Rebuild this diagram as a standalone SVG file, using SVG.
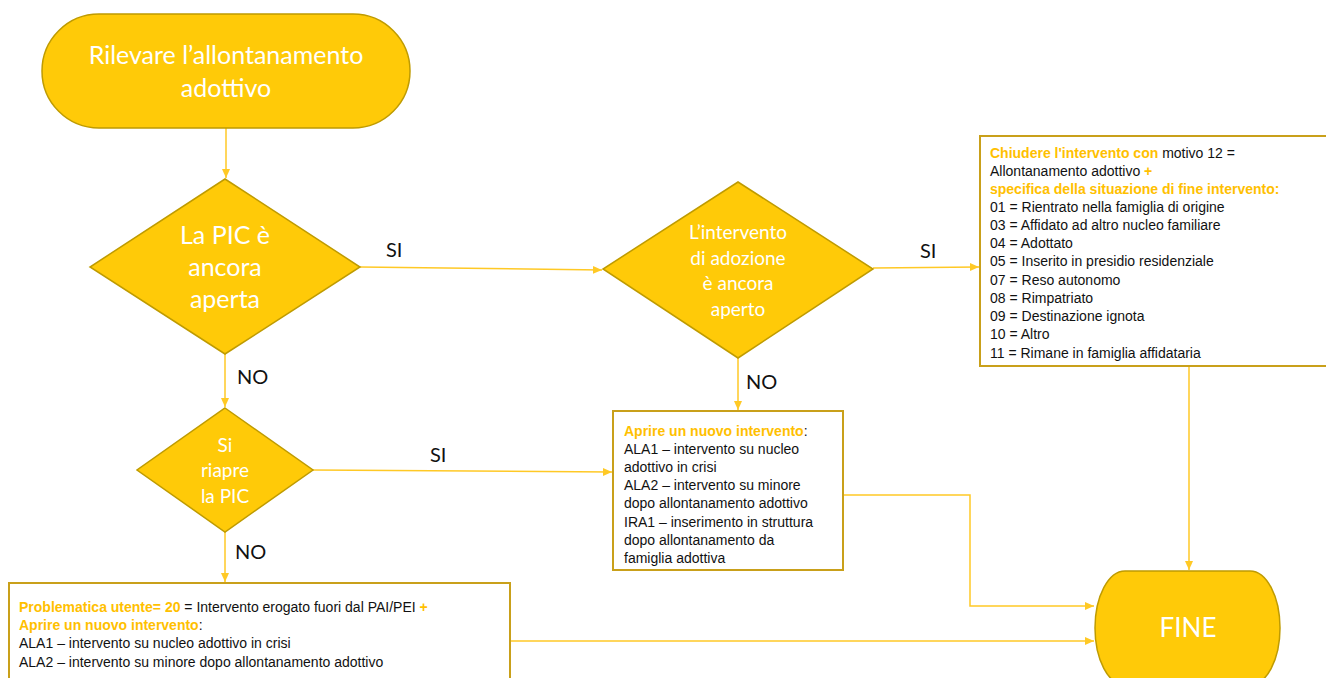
<svg xmlns="http://www.w3.org/2000/svg" width="1326" height="678" viewBox="0 0 1326 678">
<defs>
<marker id="arr" markerWidth="10" markerHeight="10" refX="9" refY="5" orient="auto" markerUnits="userSpaceOnUse">
<path d="M0,1 L9,5 L0,9 Z" fill="#FFC000"/>
</marker>
<style>
.shape{fill:#FFCA08;stroke:#BF9B00;stroke-width:1.5}
.box{fill:#FFFFFF;stroke:#C9A01A;stroke-width:2}
.wt{font-family:Lato,"Open Sans",sans-serif;fill:#FFFFFF;text-anchor:middle}
.lbl{font-family:Lato,"Open Sans",sans-serif;fill:#111111;font-size:20px}
.bt{font-family:"Liberation Sans",Arial,sans-serif;font-size:14px;fill:#111111}
.or{fill:#FFC000;font-weight:bold}
.con{fill:none;stroke:#FFC000;stroke-width:1.5;opacity:0.85}
</style>
</defs>
<rect width="1326" height="678" fill="#FFFFFF"/>
<g id="connectors">
<path class="con" d="M226,128 V178" marker-end="url(#arr)"/>
<path class="con" d="M360,267 L602,270" marker-end="url(#arr)"/>
<path class="con" d="M873,268 L979,267" marker-end="url(#arr)"/>
<path class="con" d="M738,358 V410" marker-end="url(#arr)"/>
<path class="con" d="M225,354 V407" marker-end="url(#arr)"/>
<path class="con" d="M313,470 L612,472" marker-end="url(#arr)"/>
<path class="con" d="M225,532 V582" marker-end="url(#arr)"/>
<path class="con" d="M1189,367 V570" marker-end="url(#arr)"/>
<path class="con" d="M843,495 H970 V606 H1094" marker-end="url(#arr)"/>
<path class="con" d="M510,641 H1094" marker-end="url(#arr)"/>
<text class="lbl" x="386" y="257">SI</text>
<text class="lbl" x="920" y="258">SI</text>
<text class="lbl" x="237" y="384">NO</text>
<text class="lbl" x="746" y="389">NO</text>
<text class="lbl" x="430" y="462">SI</text>
<text class="lbl" x="235" y="559">NO</text>
</g>
<g id="start">
<rect class="shape" x="42" y="14" width="368" height="114" rx="57" ry="57"/>
<text class="wt" font-size="25" x="226" y="64">Rilevare l’allontanamento</text>
<text class="wt" font-size="25" x="226" y="97">adottivo</text>
</g>
<g id="d1">
<polygon class="shape" points="225,179 360,267 225,354 90,267"/>
<text class="wt" font-size="25" x="225" y="244">La PIC è</text>
<text class="wt" font-size="25" x="225" y="276">ancora</text>
<text class="wt" font-size="25" x="225" y="308">aperta</text>
</g>
<g id="d2">
<polygon class="shape" points="738,182 873,269 738,358 603,269"/>
<text class="wt" font-size="19" x="738" y="239">L’intervento</text>
<text class="wt" font-size="19" x="738" y="265">di adozione</text>
<text class="wt" font-size="19" x="738" y="290">è ancora</text>
<text class="wt" font-size="19" x="738" y="316">aperto</text>
</g>
<g id="d3">
<polygon class="shape" points="225,408 313,470 225,532 137,470"/>
<text class="wt" font-size="19" x="225" y="452">Si</text>
<text class="wt" font-size="19" x="225" y="477">riapre</text>
<text class="wt" font-size="19" x="225" y="503">la PIC</text>
</g>
<g id="close-box">
<rect class="box" x="980" y="136" width="360" height="230"/>
<text class="bt" x="990" y="158"><tspan class="or">Chiudere l'intervento con</tspan> motivo 12 =</text>
<text class="bt" x="990" y="176">Allontanamento adottivo <tspan class="or">+</tspan></text>
<text class="bt or" x="990" y="194">specifica della situazione di fine intervento:</text>
<text class="bt" x="990" y="212">01 = Rientrato nella famiglia di origine</text>
<text class="bt" x="990" y="230">03 = Affidato ad altro nucleo familiare</text>
<text class="bt" x="990" y="248">04 = Adottato</text>
<text class="bt" x="990" y="266">05 = Inserito in presidio residenziale</text>
<text class="bt" x="990" y="285">07 = Reso autonomo</text>
<text class="bt" x="990" y="303">08 = Rimpatriato</text>
<text class="bt" x="990" y="321">09 = Destinazione ignota</text>
<text class="bt" x="990" y="339">10 = Altro</text>
<text class="bt" x="990" y="358">11 = Rimane in famiglia affidataria</text>
</g>
<g id="open-box">
<rect class="box" x="613" y="411" width="230" height="159"/>
<text class="bt" x="624" y="436"><tspan class="or">Aprire un nuovo intervento</tspan>:</text>
<text class="bt" x="624" y="454">ALA1 – intervento su nucleo</text>
<text class="bt" x="624" y="472">adottivo in crisi</text>
<text class="bt" x="624" y="490">ALA2 – intervento su minore</text>
<text class="bt" x="624" y="508">dopo allontanamento adottivo</text>
<text class="bt" x="624" y="527">IRA1 – inserimento in struttura</text>
<text class="bt" x="624" y="545">dopo allontanamento da</text>
<text class="bt" x="624" y="563">famiglia adottiva</text>
</g>
<g id="problem-box">
<rect class="box" x="9" y="583" width="501" height="110"/>
<text class="bt" x="19" y="612"><tspan class="or">Problematica utente= 20</tspan> = Intervento erogato fuori dal PAI/PEI <tspan class="or">+</tspan></text>
<text class="bt" x="19" y="630"><tspan class="or">Aprire un nuovo intervento</tspan>:</text>
<text class="bt" x="19" y="648">ALA1 – intervento su nucleo adottivo in crisi</text>
<text class="bt" x="19" y="667">ALA2 – intervento su minore dopo allontanamento adottivo</text>
</g>
<g id="end">
<rect class="shape" x="1095" y="571" width="185" height="114" rx="30" ry="57"/>
<text class="wt" font-size="26" x="1188" y="637">FINE</text>
</g>
</svg>
